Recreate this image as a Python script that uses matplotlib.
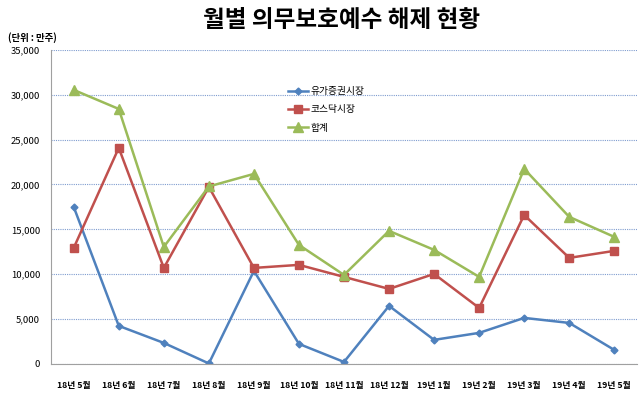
import matplotlib.pyplot as plt
from matplotlib.ticker import FuncFormatter

plt.rcParams['font.family'] = ['Noto Sans CJK KR', 'DejaVu Sans']

months = ['18년 5월', '18년 6월', '18년 7월', '18년 8월', '18년 9월', '18년 10월', '18년 11월',
          '18년 12월', '19년 1월', '19년 2월', '19년 3월', '19년 4월', '19년 5월']
kospi = [17500, 4240, 2340, 50, 10370, 2230, 220, 6470, 2680, 3460, 5130, 4570, 1560]
kosdaq = [12930, 24080, 10700, 19730, 10700, 11040, 9700, 8360, 10030, 6240, 16600, 11820, 12600]
total = [30540, 28420, 13040, 19780, 21180, 13260, 9920, 14830, 12710, 9700, 21740, 16390, 14160]

fig = plt.figure(figsize=(6.4, 3.93), dpi=100)
ax = fig.add_axes([0.080, 0.074, 0.915, 0.799])

x = range(len(months))
ax.plot(x, kospi, color='#4F81BD', lw=1.8, marker='D', ms=3.5, label='유가증권시장')
ax.plot(x, kosdaq, color='#C0504D', lw=1.8, marker='s', ms=5.5, label='코스닥시장')
ax.plot(x, total, color='#9BBB59', lw=1.8, marker='^', ms=6.5, label='합계')

ax.set_xlim(-0.5, len(months) - 0.5)
ax.set_ylim(0, 35000)
ax.set_yticks(range(0, 35001, 5000))
ax.yaxis.set_major_formatter(FuncFormatter(lambda v, p: f'{int(v):,}'))
ax.set_xticks(list(x))
ax.set_xticklabels(months, fontsize=6.3, fontweight='bold')
for t in ax.get_yticklabels():
    t.set_fontsize(6.8)
ax.tick_params(axis='both', length=0, pad=8)
ax.tick_params(axis='x', pad=12)
ax.yaxis.grid(True, color='#7F9CCF', ls=(0, (1, 1)), lw=0.8)
ax.set_axisbelow(True)
for s in ['top', 'right']:
    ax.spines[s].set_visible(False)
for s in ['left', 'bottom']:
    ax.spines[s].set_color('#A0A0A0')

leg = ax.legend(loc='upper left', bbox_to_anchor=(0.405, 0.885), frameon=False, fontsize=7,
                handlelength=2.0, labelspacing=0.85, handletextpad=0.3, borderpad=0, borderaxespad=0)
fig.text(0.533, 0.95, '월별 의무보호예수 해제 현황', ha='center', va='center', fontsize=17, fontweight='bold')
fig.text(0.012, 0.905, '(단위 : 만주)', ha='left', va='center', fontsize=6.8, fontweight='bold')

fig.savefig('out.png', dpi=100)
